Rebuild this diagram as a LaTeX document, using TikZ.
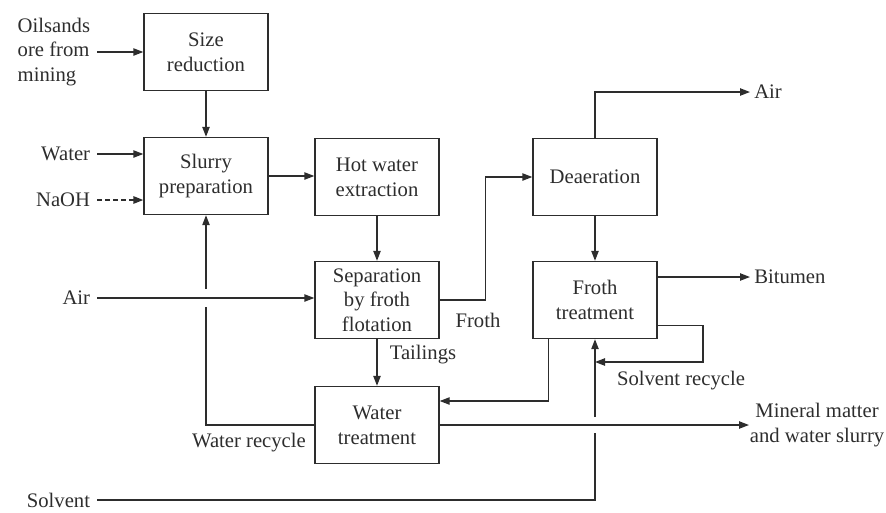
\documentclass[tikz,border=0pt]{standalone}
\usepackage{fontspec}
\setmainfont{Liberation Serif}
\usetikzlibrary{arrows.meta,calc}

\definecolor{ink}{RGB}{45,45,45}
\tikzset{
  unitbox/.style={draw=ink, line width=1pt, minimum width=93pt, minimum height=57.75pt,
    align=center, inner sep=0.75pt, text=ink, font=\fontsize{15.5}{18.5}\selectfont},
  lbl/.style={inner sep=0.75pt, text=ink, align=center, font=\fontsize{15.5}{18.5}\selectfont},
  feedlbl/.style={lbl, anchor=east, inner xsep=5pt},
  prodlbl/.style={lbl, anchor=west, inner xsep=3pt},
  pipe/.style={draw=ink, line width=1pt},
  stream/.style={pipe, -{Triangle[length=7.5pt,width=5.5pt]}},
}

\begin{document}
\begin{tikzpicture}[x=0.75pt,y=0.75pt,yscale=-1,xscale=1]
\useasboundingbox (0,0) rectangle (886,512);

% Process units
\node[unitbox] (size) at (206,52) {Size\\reduction};
\node[unitbox] (slurry) at (206,176) {Slurry\\preparation};
\node[unitbox] (hotw) at (377,177) {Hot water\\extraction};
\node[unitbox] (sep) at (377,300) {Separation\\by froth\\flotation};
\node[unitbox] (deaer) at (595,177) {Deaeration};
\node[unitbox] (froth) at (595,300) {Froth\\treatment};
\node[unitbox] (wtreat) at (377,425) {Water\\treatment};

% Feeds on the left
\node[feedlbl, align=left] (ore) at (97,52) {Oilsands\\ore from\\mining};
\node[feedlbl] (water) at (97,154) {Water};
\node[feedlbl] (naoh) at (97,200) {NaOH};
\node[feedlbl] (air) at (97,298) {Air};
\node[feedlbl] (solvent) at (97,500) {Solvent};

% Products on the right
\node[prodlbl] (airout) at (750,92) {Air};
\node[prodlbl] (bitumen) at (750,277) {Bitumen};
\node[prodlbl, inner xsep=0.5pt] (mineral) at (749,425) {Mineral matter\\and water slurry};

% Stream labels
\node[lbl] (frothlbl) at (478,320) {Froth};
\node[lbl] (tail) at (423,355) {Tailings};
\node[lbl] (srec) at (681,381) {Solvent recycle};
\node[lbl] (wrec) at (249,443) {Water recycle};

\coordinate (sloop) at (703,362);

% Main line
\draw[stream] (ore.east) -- (size.west);
\draw[stream] (water.east) -- (water.east -| slurry.west);
\draw[stream, line width=1.4pt, dash pattern=on 4pt off 2pt] (naoh.east) -- (naoh.east -| slurry.west);
\draw[stream] (size) -- (slurry);
\draw[stream] (slurry.east) -- (slurry.east -| hotw.west);
\draw[stream] (hotw) -- (sep);
\draw[stream] (air.east) -- (air.east -| sep.west);
\draw[stream] (sep.east) -- ++(46,0) |- (deaer.west);
\draw[stream] (deaer.north) |- (airout.west);
\draw[stream] (deaer) -- (froth);
\draw[stream] (bitumen.west -| froth.east) -- (bitumen.west);
\draw[stream] (sep) -- (wtreat);
\draw[stream] (wtreat.east) -- (mineral.west);

% Froth treatment rejects and solvent recycle
\draw[stream] ($(froth.south west)+(16,0)$) |- ($(wtreat.east)+(0,-24)$);
\draw[stream] ($(froth.south east)+(0,-14)$) -| (sloop) -- (sloop -| froth.south);

% Solvent feed, hop over the slurry line
\draw[pipe] (solvent.east) -| ($(mineral.west -| froth.south)+(0,8)$);
\draw[stream] ($(mineral.west -| froth.south)+(0,-8)$) -- (froth.south);

% Water recycle, hop over the air line
\draw[pipe] (wtreat.west) -| ($(air.east -| slurry.south)+(0,9)$);
\draw[stream] ($(air.east -| slurry.south)+(0,-9)$) -- (slurry.south);

\end{tikzpicture}
\end{document}
